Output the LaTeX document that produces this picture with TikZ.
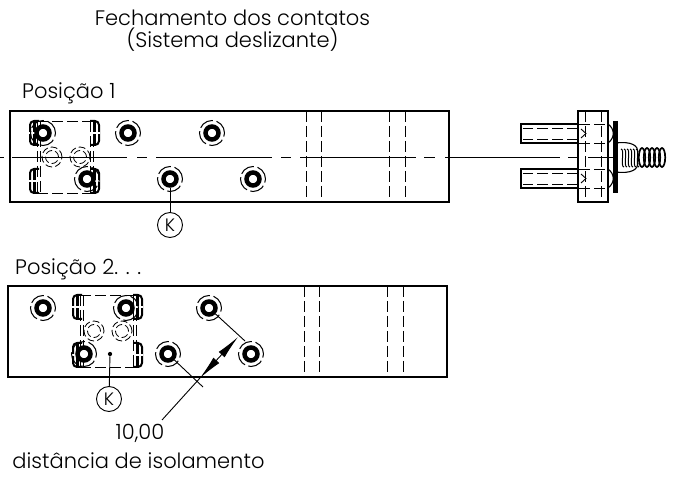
\documentclass[tikz,border=0pt]{standalone}
\usepackage{fontspec}
\setmainfont{Poppins Light}
\usetikzlibrary{arrows.meta}
\tikzset{
  bar/.style={draw, line width=1.6pt},
  hidden/.style={draw, line width=.9pt, dash pattern=on 11pt off 4pt},
  centre/.style={draw, line width=.8pt},
  thin line/.style={draw, line width=.9pt},
  hole/.style={circle, draw, fill=white, line width=4.5pt, minimum size=13pt, inner sep=0pt},
  holeedge/.style={circle, draw, line width=1pt, dash pattern=on 15pt off 3.6pt, minimum size=25pt, inner sep=0pt},
  seat/.style={circle, draw, line width=.8pt, dash pattern=on 7pt off 3pt, minimum size=#1, inner sep=0pt},
  callout/.style={circle, draw, line width=.9pt, minimum size=25pt, inner sep=0pt, font=\fontsize{18}{19}\selectfont},
  label/.style={font=\fontsize{21}{22}\selectfont, inner sep=0pt},
  slider/.pic={
    \draw[hidden] (0,0) -- (56,0);
    \draw[hidden] (0,72) -- (56,72);
    \draw[hidden] (0,0) -- (0,72);
    \draw[hidden] (3,0) -- (3,72);
    \draw[hidden] (53,0) -- (53,72);
    \draw[hidden] (56,0) -- (56,72);
    \foreach \ya/\yb in {0/24, 48/72} {
      \draw[line width=2pt, rounded corners=4pt] (2,\ya) -- (-7,\ya) -- (-7,\yb) -- (2,\yb);
      \draw[line width=2pt, rounded corners=4pt] (53,\ya) -- (62,\ya) -- (62,\yb) -- (53,\yb);
      \draw[line width=2.6pt] (-2.5,\ya) -- (-2.5,\yb);
      \draw[line width=2.6pt] (57.5,\ya) -- (57.5,\yb);
      \draw[white, line width=1.6pt] (-8,{(\ya+\yb)/2}) -- (1,{(\ya+\yb)/2});
      \draw[white, line width=1.6pt] (54,{(\ya+\yb)/2}) -- (63,{(\ya+\yb)/2});
    }
  },
}
\begin{document}
\begin{tikzpicture}[x=1pt, y=-1pt]
\useasboundingbox (0,0) rectangle (675,478);

\node[label] (title1) at (232.5,18) {Fechamento dos contatos};
\node[label] (title2) at (232.5,40) {(Sistema deslizante)};
\node[label, anchor=west] (pos1) at (22,93) {Posição 1};
\node[label, anchor=west] (pos2) at (15,269) {Posição 2. . .};
\node[label] (dim) at (140,433) {10,00};
\node[label] (note) at (138.5,461) {distância de isolamento};

% position 1
\draw[bar] (10,111) rectangle (449,202);
\foreach \x in {306,321,389,405}
  \draw[hidden] (\x,111) -- (\x,202);
\foreach \a/\b in {0/4,12/127,137/147,156/272,281/291,300/416,424/435,445/560,568/578,588/617}
  \draw[centre] (\a,157.5) -- (\b,157.5);
\pic at (37,121) {slider};
\node[seat=20pt] (s1) at (52,157) {};
\node[seat=13pt] at (52,157) {};
\node[seat=20pt] (s2) at (80,157) {};
\node[seat=13pt] at (80,157) {};
\foreach \n/\x/\y in {a/43/133,b/128/133,c/212/133,d/87/179,e/170/179,f/253/179} {
  \node[holeedge] at (\x,\y) {};
  \node[hole] (\n1) at (\x,\y) {};
}
\node[callout] (k1) at (170,225) {K};
\draw[thin line] (e1) -- (k1);

% position 2
\draw[bar] (8,286) rectangle (447,377);
\foreach \x in {304,319,387,403}
  \draw[hidden] (\x,286) -- (\x,377);
\pic at (80,295) {slider};
\node[seat=20pt] (s3) at (94,331) {};
\node[seat=13pt] at (94,331) {};
\node[seat=20pt] (s4) at (122,331) {};
\node[seat=13pt] at (122,331) {};
\foreach \n/\x/\y in {a/43/308,b/126/308,c/209/308,d/84/354,e/168/354,f/251/354} {
  \node[holeedge] at (\x,\y) {};
  \node[hole] (\n2) at (\x,\y) {};
}
\node[circle, fill, inner sep=1.5pt] (dot) at (110,354) {};
\node[callout] (k2) at (109,399) {K};
\draw[thin line] (dot) -- (k2);

% distance
\coordinate (e1end) at (245,341);
\coordinate (e2end) at (203,387);
\coordinate (tipa) at (238,337);
\coordinate (tipb) at (200,378);
\coordinate (lead) at (162,420);
\draw[thin line] (c2) -- (e1end);
\draw[thin line] (e2) -- (e2end);
\draw[thin line, {Latex[length=24pt, width=8pt]}-{Latex[length=24pt, width=8pt]}] (tipa) -- (tipb);
\draw[thin line] (tipb) -- (lead);

% side view
\draw[bar] (578,111) rectangle (608,202);
\foreach \x in {585,601}
  \draw[hidden] (\x,111) -- (\x,202);
\foreach \y in {124,169} {
  \draw[line width=1.4pt] (578,\y) -- (521,\y) -- (521,\y+19) -- (578,\y+19);
  \draw[hidden] (578,\y+4) -- (523,\y+4);
  \draw[hidden] (578,\y+15) -- (523,\y+15);
  \draw[hidden] (579,\y) -- (608,\y);
  \draw[hidden] (579,\y+19) -- (608,\y+19);
  \draw[thin line] (581,\y+5) -- (586,\y+9.5) -- (581,\y+14);
  \draw[line width=1.1pt] (608,\y) .. controls (615,\y+5) and (615,\y+14) .. (608,\y+19);
}
\draw[line width=5pt, rounded corners=2pt] (615.5,121) -- (615.5,193);
\draw[line width=1.1pt] (616,143) .. controls (632,141) and (638,146) .. (638,152);
\draw[line width=1.1pt] (616,172) .. controls (632,174) and (638,169) .. (638,163);
\foreach \i in {0,...,5}
  \draw[line width=1pt] (621+\i*3,149) .. controls (625+\i*3,149) and (620+\i*3,167) .. (624+\i*3,167);
\foreach \i in {0,...,4}
  \draw[line width=1.7pt] (642+\i*5,157.5) ellipse [x radius=3.2, y radius=9.5];
\end{tikzpicture}
\end{document}
